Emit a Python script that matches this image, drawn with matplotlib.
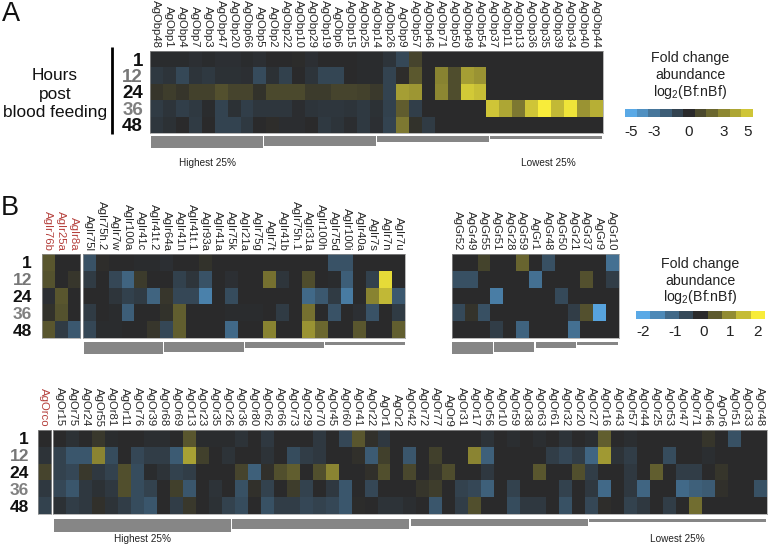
import numpy as np
import matplotlib
matplotlib.use('Agg')
import matplotlib.pyplot as plt
from matplotlib.colors import LinearSegmentedColormap
from matplotlib.patches import Rectangle

plt.rcParams['font.family'] = ['Liberation Sans', 'DejaVu Sans']
plt.rcParams['mathtext.fontset'] = 'custom'
plt.rcParams['mathtext.rm'] = 'Liberation Sans'
plt.rcParams['mathtext.default'] = 'rm'

W, H = 768, 547
hours = ['1', '12', '24', '36', '48']
hour_colors = ['#111111', '#777777', '#111111', '#808080', '#111111']

obp_names = ['AgObp48', 'AgObp1', 'AgObp4', 'AgObp7', 'AgObp3', 'AgObp47', 'AgObp20', 'AgObp66', 'AgObp5',
             'AgObp2', 'AgObp22', 'AgObp10', 'AgObp29', 'AgObp19', 'AgObp6', 'AgObp15', 'AgObp25', 'AgObp14',
             'AgObp26', 'AgObp9', 'AgObp57', 'AgObp46', 'AgObp71', 'AgObp50', 'AgObp49', 'AgObp54', 'AgObp37',
             'AgObp11', 'AgObp13', 'AgObp36', 'AgObp35', 'AgObp39', 'AgObp34', 'AgObp40', 'AgObp44']
obp_1 = [-0.1, -0.1, -0.1, -0.2, -0.1, -0.2, -0.2, -0.1, -0.2, 0, 0, 0.05, -0.2, 0, 0, 0, -0.1, -0.1,
         -0.4, -1.2, 0.7, 0, 0, 0, 0, 0, 0, 0, 0, 0, 0, 0, 0, 0, 0]
obp_12 = [-0.6, -0.4, -1.2, -0.4, -0.6, -0.3, -0.3, -0.2, -1.3, -0.3, -0.9, 0, -0.4, -1.1, -1.1, 0, -0.1, -0.1,
          -1.0, 0.1, 1.2, 0, 2.3, 0.9, 3.0, 2.7, 0, 0, 0, 0, 0, 0, 0, 0, 0]
obp_24 = [0.3, 0.5, 0.3, 0.6, 0.6, 1.0, 0.7, 0.7, 0.2, 0.8, 0.8, 0.8, 0.45, 0.45, 0.7, 0.7, 0.6, 0.4,
          -1.0, 3.0, 2.8, 0, 2.4, 0.9, 4.1, 3.8, 0, 0, 0, 0, 0, 0, 0, 0, 0]
obp_36 = [-0.7, -0.4, -0.8, -0.6, -0.1, -1.0, -0.3, -0.8, -0.5, -0.5, -0.5, -0.15, -0.4, -0.5, -0.5, -0.4, -0.6, -0.3,
          -0.9, 1.3, -0.8, 0, 0, 0, 0, 0, 4.0, 3.2, 2.0, 4.0, 5.0, 3.7, 4.8, 2.7, 3.4]
obp_48 = [-0.5, -0.3, 0, -0.7, 0, -1.0, -1.0, -0.6, 0, 0.1, -0.15, -0.15, 0, -0.6, -0.4, -0.15, -0.6, -0.2,
          -1.0, 2.0, 0.2, -0.7, 0, 0, 0, 0, 0, 0, 0, 0, 0, 0, 0, 0, 0]

ir_red_names = ['AgIr76b', 'AgIr25a', 'AgIr8a']
ir_red_1 = [0.5, 0, 0]
ir_red_12 = [0.45, 0, 0.15]
ir_red_24 = [-0.1, 0.5, 0]
ir_red_36 = [0.1, 0.45, 0]
ir_red_48 = [0.5, -0.3, -0.8]

ir_names = ['AgIr75l', 'AgIr75h.2', 'AgIr7w', 'AgIr100a', 'AgIr41c', 'AgIr41t.2', 'AgIr64a', 'AgIr41n', 'AgIr41t.1',
            'AgIr93a', 'AgIr41a', 'AgIr75k', 'AgIr21a', 'AgIr75g', 'AgIr7t', 'AgIr41b', 'AgIr75h.1', 'AgIr31a',
            'AgIr100h', 'AgIr75d', 'AgIr100i', 'AgIr40a', 'AgIr7s', 'AgIr7n', 'AgIr7u']
ir_1 = [-0.7, 0.05, 0, 0, -0.05, -0.05, -0.1, 0, 0, 0.1, 0, 0, 0, 0, 0, 0, 0, 0, 0, -0.7, -0.7, 0, 0, 0, 0]
ir_12 = [-0.3, 0, -0.5, -1.0, 0.2, 0, 0, -0.4, -0.2, -0.7, 0, -0.1, 0, 0, 0.8, -0.2, 0, 0.4, 0, -0.05, -0.9, 0,
         -0.4, 2.0, 0]
ir_24 = [0, 0, -0.2, -0.4, -0.3, -1.0, 0.15, -0.5, -0.5, -1.5, 0, -0.6, 0, 0, 0, 0, 0, -1.1, -0.8, -0.3, -1.4, 0,
         1.0, 1.6, -0.8]
ir_36 = [-0.3, 0, -0.05, -0.9, 0, 0, 0.1, 0.6, 0, 0, 0, -0.05, -0.05, -0.05, 0, -0.3, 0, 0.8, 0, -0.7, 0, -0.1,
         -0.7, 0, -0.3]
ir_48 = [-0.5, -0.05, -0.05, 0, 0, 0.15, -0.5, 0.6, 0, 0, 0, -1.1, 0, 0, 1.0, 0, 0, 1.2, 0.7, 0, 0, 0.5, 0, 0, 0.6]

gr_names = ['AgGr52', 'AgGr49', 'AgGr55', 'AgGr51', 'AgGr28', 'AgGr59', 'AgGr1', 'AgGr48', 'AgGr50', 'AgGr21',
            'AgGr37', 'AgGr9', 'AgGr10']
gr_1 = [0, 0, 0.25, 0, 0, 0.6, 0, -0.6, 0, 0, 0, 0, -1.1]
gr_12 = [-0.6, -0.6, 0, 0, 0, 0, -1.1, 0, 0, 0, 0.4, 0, -0.3]
gr_24 = [0, 0, 0, -1.3, 0, 0, 0, 0, -0.5, 0, 0, 0, 0]
gr_36 = [-0.5, 0.1, -0.6, 0, 0, 0, 0, 0, 0, -0.3, 0.4, -1.9, 0]
gr_48 = [0, 0, 0, -0.3, 0, -0.9, 0, 0, 0, -1.1, 0, 0, 0]

orco_values = [-0.02, -0.2, 0.35, -0.3, -0.5]

or_names = ['AgOr15', 'AgOr75', 'AgOr24', 'AgOr55', 'AgOr81', 'AgOr11', 'AgOr76', 'AgOr39', 'AgOr68', 'AgOr69',
            'AgOr13', 'AgOr23', 'AgOr35', 'AgOr26', 'AgOr36', 'AgOr80', 'AgOr62', 'AgOr66', 'AgOr73', 'AgOr29',
            'AgOr70', 'AgOr45', 'AgOr60', 'AgOr41', 'AgOr22', 'AgOr1', 'AgOr2', 'AgOr42', 'AgOr72', 'AgOr77',
            'AgOr9', 'AgOr31', 'AgOr17', 'AgOr56', 'AgOr10', 'AgOr59', 'AgOr38', 'AgOr63', 'AgOr61', 'AgOr32',
            'AgOr20', 'AgOr27', 'AgOr16', 'AgOr43', 'AgOr57', 'AgOr44', 'AgOr25', 'AgOr53', 'AgOr47', 'AgOr71',
            'AgOr46', 'AgOr6', 'AgOr51', 'AgOr33', 'AgOr48']
or_1 = [0, -0.15, 0, 0.2, -0.05, -0.02, 0, -0.1, -0.1, 0, 0.6, -0.05, -0.05, -0.05, -0.2, 0, -0.3, 0, 0, 0, -0.3, 0,
        -0.6, 0.6, 0.1, -0.3, 0, 0, 0, 0, 0, 0, 0, -0.2, 0, -0.1, 0, -0.1, 0, -0.2, 0, -0.1, 0.7, 0, -0.1, 0, 0, 0, 0,
        0, 0.15, 0, -0.8, 0, 0]
or_12 = [-0.5, -0.9, -0.9, 1.2, -0.7, 0, -0.6, -0.4, -0.4, -1.0, 1.6, 0.3, 0, -0.2, 0, 0, -0.2, 0, -0.7, -0.4, -0.3,
         0, 0, 0.1, -1.0, 0.3, 0, -0.9, 0, 0.3, 0, 0, 1.2, -1.1, 0, 0, 0, 0, -0.4, -0.6, -0.4, -1.2, 1.5, -0.2, -0.4,
         0, 0, -0.7, 0, 0, -0.1, 0, 0, 0, 0]
or_24 = [-0.5, -0.6, 0.2, -0.3, -0.5, 0.5, -0.7, -0.05, -0.2, -0.5, -0.4, 0, 0, 0, 0.35, -1.1, 0.1, 0.5, 0.7, 0, 0.5,
         1.2, 0, 0, 0.1, 0.5, 0, 0.4, 0, 0.15, 0.45, 0, 0, -0.3, 0, 0, 0, 0.6, 0, 0, 0.5, -0.4, 0, 0, -0.3, 0, 0.7, 0,
         -0.4, -0.4, 0, 0.15, 0, 0, 0]
or_36 = [-0.6, -0.9, -0.3, -0.15, -0.3, 0.5, -0.7, -0.5, 0, 0.3, -0.9, 0, -0.2, 0, -0.8, 0.1, -0.5, 0, 0.25, -0.5, 0,
         -0.3, -0.9, 0, -0.6, 0, 0, 0, 0.15, 0.25, 0, -0.5, -0.6, -1.1, 0, -0.5, 0, 0, 0, -0.5, 0, -0.3, -1.3, 0, -0.3,
         -1.2, 0, 0, -1.3, -1.1, -1.0, 0.1, 0, 0, -0.8]
or_48 = [-0.15, -0.4, -0.3, 0.1, -0.2, -0.4, -0.7, -0.9, 0, -0.4, 0.2, 0, -0.15, -0.5, -0.7, 0, -0.8, -0.4, -0.4, -0.6,
         -0.5, -0.6, -0.9, 0.03, -0.02, -0.2, -0.2, -0.1, 0, -0.9, 0, -0.4, 0.5, 0, 0, -0.7, -0.3, -0.3, 0, -0.8, 0,
         -0.6, 0.05, 0, -0.5, -0.3, 0, -0.4, 0, 0.9, 0, 0, 0, 0, 0]

# colour key cells as they look in the reference
key_a_cells = [-5, -4, -3, -2, -1, 0, 0.8, 1.6, 2.4, 3.2, 4]
key_a_ticks = [-5, -3, 0, 3, 5]
key_a_pos = [0, 2, 5, 8, 10]
key_b_cells = [-2, -1.5, -1, -0.5, 0, 0.5, 1, 1.5, 2]
key_b_ticks = [-2, -1, 0, 1, 2]
key_b_pos = [0, 2.2, 4.2, 6.1, 8]
bar_heights = [12.5, 10, 6.5, 3.3]

cmap = LinearSegmentedColormap.from_list('fold', ['#5aa9e6', '#2a2a2b', '#f8ec3a'])
fig = plt.figure(figsize=(W / 100, H / 100), dpi=100)


def px_axes(x0, y0, x1, y1):
    return fig.add_axes([x0 / W, 1 - y1 / H, (x1 - x0) / W, (y1 - y0) / H])


def heat(rect, rows, names, vmax, name_color='#262626', row_fs=None, row_pad=5):
    ax = px_axes(*rect)
    ax.imshow(np.array(rows), cmap=cmap, vmin=-vmax, vmax=vmax, aspect='auto', interpolation='bilinear' if False else 'nearest')
    ax.xaxis.tick_top()
    ax.set_xticks(range(len(names)))
    ax.set_xticklabels(names, rotation=-90, fontsize=8.2, color=name_color, va='bottom', ha='center')
    ax.tick_params(axis='x', length=0, pad=2.5)
    ax.tick_params(axis='y', length=0, pad=row_pad)
    ax.set_yticks([])
    if row_fs:
        ax.set_yticks(range(5))
        ax.set_yticklabels(hours, fontsize=row_fs, fontweight='bold')
        for lab, c in zip(ax.get_yticklabels(), hour_colors):
            lab.set_color(c)
    for s in ax.spines.values():
        s.set_color('#9a9a9a')
        s.set_linewidth(0.5)
    return ax


def key(rect, cells, ticks, pos, vmax, label_pad):
    ax = px_axes(*rect)
    ax.imshow([cells], cmap=cmap, vmin=-vmax, vmax=vmax, aspect='auto', interpolation='nearest')
    ax.set_yticks([])
    ax.set_xticks(pos)
    ax.set_xticklabels(ticks, fontsize=11, color='#222222')
    ax.tick_params(length=0, pad=label_pad)
    for s in ax.spines.values():
        s.set_visible(False)


heat((150, 51, 602.5, 133), [obp_1, obp_12, obp_24, obp_36, obp_48], obp_names, 5, row_fs=13.5, row_pad=5)
heat((41.7, 254, 80, 338), [ir_red_1, ir_red_12, ir_red_24, ir_red_36, ir_red_48], ir_red_names, 2.2,
     name_color='#b5403c', row_fs=12.5, row_pad=7)
heat((83, 254, 405, 338), [ir_1, ir_12, ir_24, ir_36, ir_48], ir_names, 2.2)
heat((452, 254, 618.5, 338), [gr_1, gr_12, gr_24, gr_36, gr_48], gr_names, 2)
heat((37.7, 430, 51, 514), [[v] for v in orco_values], ['AgOrco'], 2.6, name_color='#b5403c', row_fs=12.5, row_pad=6.3)
heat((53.3, 430, 766.7, 514), [or_1, or_12, or_24, or_36, or_48], or_names, 2.6)

key((625, 109, 753, 117), key_a_cells, key_a_ticks, key_a_pos, 5, 5.5)
key((636, 310.7, 765, 319.3), key_b_cells, key_b_ticks, key_b_pos, 2, 4)

# overlay in pixel coordinates for letters, captions, quartile bars
ov = fig.add_axes([0, 0, 1, 1], zorder=-1)
ov.set_xlim(0, W)
ov.set_ylim(H, 0)
ov.axis('off')


def quartile_bars(x0, x1, y0):
    step = (x1 - x0) / 4
    for i, h in enumerate(bar_heights):
        ov.add_patch(Rectangle((x0 + i * step + 0.3, y0), step - 1.2, h, color='#868686', lw=0))


quartile_bars(151, 603, 135.7)
quartile_bars(83.3, 405.5, 341.7)
quartile_bars(452, 618.5, 341.7)
quartile_bars(53.5, 767, 519)

ov.text(2, 14, 'A', fontsize=19.5, va='center', color='#111111')
ov.text(1, 208, 'B', fontsize=19.5, va='center', color='#111111')
ov.text(55, 94, 'Hours\npost\nblood feeding', fontsize=12.4, ha='center', va='center', linespacing=1.3, color='#111111')
ov.plot([112, 112], [47, 134], color='black', lw=2, solid_capstyle='butt')

for x, y, s in [(179, 163, 'Highest 25%'), (520.7, 163, 'Lowest 25%'), (114, 539, 'Highest 25%'), (650, 539, 'Lowest 25%')]:
    ov.text(x, y, s, fontsize=7.2, va='center', color='#222222')

for cx, ys in [(690, (58, 75, 92)), (700, (264, 281, 297))]:
    for y, s in zip(ys, ['Fold change', 'abundance', 'log$_2$(Bf:nBf)']):
        ov.text(cx, y, s, fontsize=10.2, ha='center', va='center', color='#222222')

fig.savefig('out.png', dpi=100)
